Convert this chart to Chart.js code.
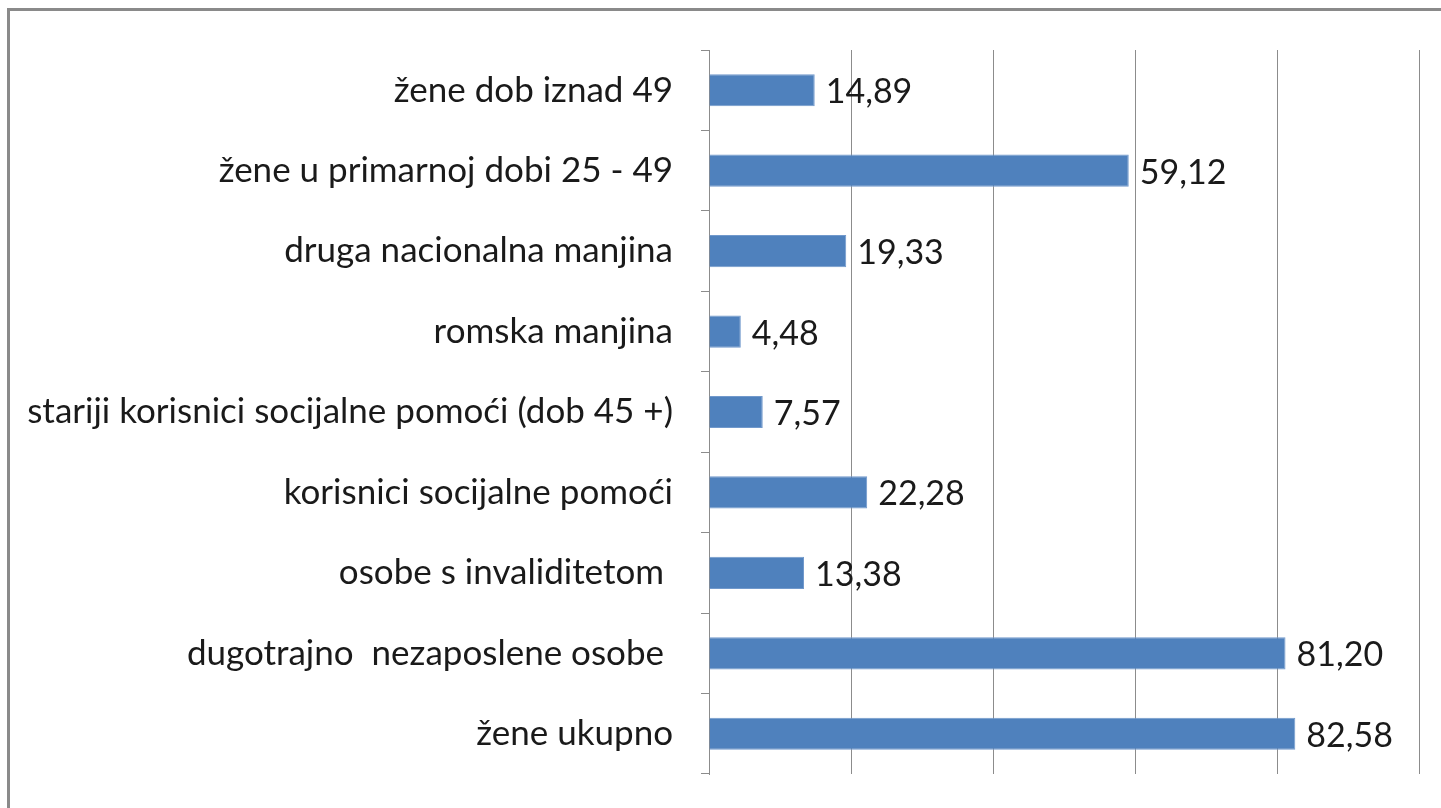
<!DOCTYPE html>
<html>
<head>
<meta charset="utf-8">
<script src="https://cdn.jsdelivr.net/npm/chart.js@4/dist/chart.umd.min.js"></script>
<style>
  html, body { margin: 0; padding: 0; background: #fff; overflow: hidden; }
  #wrap { position: absolute; left: 0; top: 0; width: 1441px; height: 808px; }
  #frame { position: absolute; left: 7px; top: 8px; width: 1500px; height: 900px;
    border-left: 3px solid #8a8a8a; border-top: 3px solid #8a8a8a; }
</style>
</head>
<body>
<div id="frame"></div>
<div id="wrap"><canvas id="myChart" width="1441" height="808"></canvas></div>
<script>
const labels = [
  'žene dob iznad 49',
  'žene u primarnoj dobi 25 - 49',
  'druga nacionalna manjina',
  'romska manjina',
  'stariji korisnici socijalne pomoći (dob 45 +)',
  'korisnici socijalne pomoći',
  'osobe s invaliditetom ',
  'dugotrajno  nezaposlene osobe ',
  'žene ukupno'
]
const values = [14.89, 59.12, 19.33, 4.48, 7.57, 22.28, 13.38, 81.20, 82.58]

const fontFamily = 'Lato, "Open Sans", sans-serif'

// value labels next to each bar
const valueLabels = {
  id: 'valueLabels',
  afterDatasetsDraw(chart) {
    const ctx = chart.ctx
    const meta = chart.getDatasetMeta(0)
    ctx.save()
    ctx.font = '34px ' + fontFamily
    ctx.fillStyle = '#1a1a1a'
    ctx.textAlign = 'left'
    ctx.textBaseline = 'middle'
    meta.data.forEach((bar, i) => {
      const txt = values[i].toFixed(2).replace('.', ',')
      ctx.fillText(txt, bar.x + 11, bar.y + 2)
    })
    ctx.restore()
  }
}

const data = {
  labels: labels,
  datasets: [{
    data: values,
    backgroundColor: '#4f81bd',
    borderColor: '#7199cc',
    borderWidth: 1,
    barPercentage: 0.4,
    categoryPercentage: 1
  }]
}

const config = {
  type: 'bar',
  data: data,
  options: {
    indexAxis: 'y',
    responsive: false,
    animation: false,
    layout: { padding: { top: 50, right: 22, bottom: 34, left: 0 } },
    plugins: { legend: { display: false }, tooltip: { enabled: false } },
    scales: {
      x: {
        min: 0, max: 100,
        ticks: { display: false, stepSize: 20 },
        grid: { color: '#8c8c8c', lineWidth: 1, drawTicks: false },
        border: { display: false },
        afterFit: s => { s.height = 0 }
      },
      y: {
        ticks: { color: '#1a1a1a', font: { family: fontFamily, size: 35 }, padding: 28 },
        grid: { display: true, drawOnChartArea: false, drawTicks: true, tickLength: 8, color: '#8c8c8c', offset: true },
        border: { display: true, color: '#8c8c8c' },
        afterFit: s => { s.width = 709; s.paddingTop = 0; s.paddingBottom = 0 }
      }
    }
  },
  plugins: [valueLabels]
}

const myChart = new Chart(document.getElementById('myChart'), config)
</script>
</body>
</html>
